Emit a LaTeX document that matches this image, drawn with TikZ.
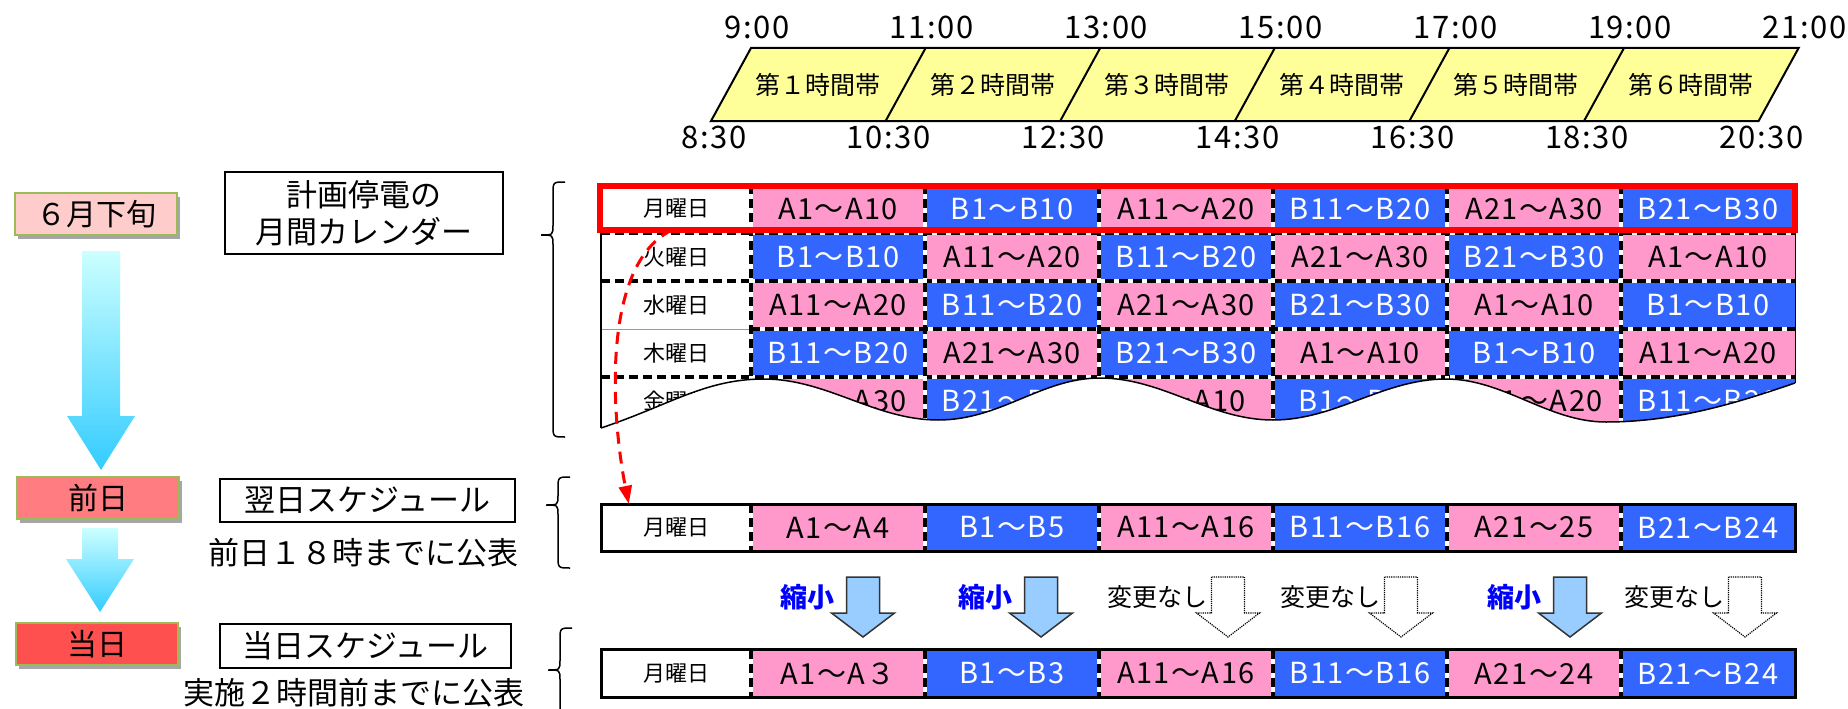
\documentclass[tikz,border=0pt]{standalone}
\usepackage{fontspec}
\setmainfont{Noto Sans CJK JP}
\newfontfamily\latfont[LetterSpace=5]{Noto Sans CJK JP}
\usetikzlibrary{positioning,calc,shadows,arrows.meta}

\definecolor{apink}{HTML}{FF99CC}
\definecolor{bblue}{HTML}{3366FF}
\definecolor{band}{HTML}{FFFF99}
\definecolor{olive}{HTML}{9BBB59}
\definecolor{junpink}{HTML}{FFCCCC}
\definecolor{zenred}{HTML}{FF7C80}
\definecolor{toured}{HTML}{FF5050}
\definecolor{shrink}{HTML}{99CCFF}
\definecolor{arrtop}{HTML}{CCFFFF}
\definecolor{arrbot}{HTML}{33CCFF}

\tikzset{
  stage/.style={draw=olive, line width=2pt, minimum width=162pt, minimum height=42pt,
    inner sep=0pt, font=\fontsize{30}{34}\selectfont,
    drop shadow={shadow xshift=3pt, shadow yshift=-4pt, fill=black!35, opacity=1}},
  lbox/.style={draw, line width=1.5pt, inner sep=0pt, align=center, font=\fontsize{31}{37}\selectfont},
  note/.style={inner sep=0pt, font=\fontsize{31}{35}\selectfont},
  timelab/.style={inner sep=0pt, font=\latfont\fontsize{31}{34}\selectfont},
  slotlab/.style={inner sep=0pt, font=\fontsize{25}{28}\selectfont},
  cell/.style={minimum width=174pt, minimum height=48pt, inner sep=0pt, font=\latfont\fontsize{29}{32}\selectfont},
  daycell/.style={minimum width=150pt, minimum height=48pt, inner sep=0pt, font=\fontsize{22}{25}\selectfont},
  sep/.style={line width=3.2pt, dash pattern=on 9pt off 5pt, preaction={draw=white, solid, line width=3.6pt}},
  shr/.style={fill=shrink, draw=black!80, line width=1.5pt, line join=miter},
  keep/.style={fill=white, draw=black, line width=1.2pt, densely dotted},
  shrlab/.style={inner sep=0pt, text=blue, font=\bfseries\fontsize{27}{30}\selectfont},
  keeplab/.style={inner sep=0pt, font=\fontsize{25}{28}\selectfont}
}

% curly bracket: tip x, top y, tip y, bottom y
\newcommand\curly[4]{%
  \draw[line width=1.5pt] ({#1+24},#2) .. controls ({#1+12},#2) .. ({#1+12},{#2+12})
    -- ({#1+12},{#3-10}) .. controls ({#1+12},#3) .. (#1,#3)
    .. controls ({#1+12},#3) .. ({#1+12},{#3+10})
    -- ({#1+12},{#4-12}) .. controls ({#1+12},#4) .. ({#1+24},#4);}

\def\wavepath{(601,428) .. controls (670,405) and (705,379) .. (764,379)
  .. controls (827,379) and (875,420) .. (938,420)
  .. controls (1001,420) and (1041,378) .. (1100,378)
  .. controls (1163,378) and (1210,420) .. (1273,420)
  .. controls (1336,420) and (1383,379) .. (1446,379)
  .. controls (1504,379) and (1548,422) .. (1606,422)
  .. controls (1680,422) and (1745,400) .. (1795,383)}

\begin{document}
\begin{tikzpicture}[x=1pt,y=-1pt]
  \useasboundingbox (0,0) rectangle (1848,709);

  % time band
  \draw[fill=band, line width=2pt] (711,121) -- (751,48) -- (1798.6,48) -- (1758.6,121) -- cycle;
  \foreach \i in {1,...,5}
    \draw[line width=2pt] ({711+174.6*\i},121) -- ({751+174.6*\i},48);
  \foreach \n [count=\i] in {１,２,３,４,５,６}
    \node[slotlab] (s-\i) at ({818+174.6*(\i-1)},85) {第\n 時間帯};
  \foreach \t [count=\i from 0] in {9:00,11:00,13:00,15:00,17:00,19:00,21:00}
    \node[timelab] (t-\i) at ({757+174.6*\i},27) {\t};
  \foreach \t [count=\i from 0] in {8:30,10:30,12:30,14:30,16:30,18:30,20:30}
    \node[timelab] (b-\i) at ({714+174.6*\i},137) {\t};

  % stages
  \node[stage, fill=junpink] (jun) at (96,214) {６月下旬};
  \node[stage, fill=zenred] (zen) at (98,498) {前日};
  \node[stage, fill=toured] (tou) at (97,644) {当日};
  \shade[top color=arrtop, bottom color=arrbot] (82,251) -- (120,251) -- (120,416) -- (135,416)
    -- (101,470) -- (67,416) -- (82,416) -- cycle;
  \shade[top color=arrtop, bottom color=arrbot] (82,528) -- (118,528) -- (118,559) -- (134,559)
    -- (100,612) -- (66,559) -- (82,559) -- cycle;

  % labels
  \node[lbox, minimum width=278pt, minimum height=82pt] (cal) at (364,213) {計画停電の\\月間カレンダー};
  \node[lbox, minimum width=295pt, minimum height=43pt] (yoku) at (367.5,500.5) {翌日スケジュール};
  \node[note] (yokupub) at (363,553) {前日１８時までに公表};
  \node[lbox, minimum width=291pt, minimum height=44pt] (toubox) at (365.5,646) {当日スケジュール};
  \node[note] (toupub) at (354,693) {実施２時間前までに公表};
  \curly{541}{182}{235}{437}
  \curly{546}{477}{505}{568}
  \curly{548}{628}{670}{760}

  % monthly calendar
  \begin{scope}
    \clip \wavepath -- (1795,185) -- (601,185) -- cycle;
    \foreach \dy [count=\rw] in {月,火,水,木,金}{
      \pgfmathsetmacro\yc{161+48*\rw}
      \node[daycell] (d-\rw) at (676,\yc) {\dy 曜日};
      \foreach \cl in {1,...,6}{
        \pgfmathtruncatemacro\kk{mod(\rw+\cl-2,6)}
        \pgfmathtruncatemacro\lo{10*int(\kk/2)+1}
        \pgfmathtruncatemacro\hi{\lo+9}
        \pgfmathsetmacro\xc{838+174*(\cl-1)}
        \ifodd\kk\relax \def\grp{B}\def\cf{bblue}\def\tc{white}%
        \else \def\grp{A}\def\cf{apink}\def\tc{black}\fi
        \node[cell, fill=\cf, text=\tc] (c-\rw-\cl) at (\xc,\yc) {\grp\lo～\grp\hi};
      }
    }
    \foreach \yy in {233,281,377}
      \draw[sep] (601,\yy) -- (1795,\yy);
    \draw[sep] (751,329) -- (1795,329);
    \draw[black!40, line width=1pt] (601,329) -- (751,329);
    \foreach \xx in {751,925,...,1621}
      \draw[sep] (\xx,185) -- (\xx,430);
  \end{scope}
  \draw[line width=1.5pt] \wavepath;
  \draw[line width=2pt] (601,233) -- (601,428);
  \draw[line width=1pt] (1795,233) -- (1795,383);
  \node[draw=red, line width=6pt, minimum width=1195pt, minimum height=44pt, inner sep=0pt, outer sep=0pt] (mon) at (1197.5,208) {};

  % next-day schedule
  \node[daycell, minimum height=47pt] (zd) at (676,527.5) {月曜日};
  \foreach \lab [count=\cl] in {A1～A4,B1～B5,A11～A16,B11～B16,A21～25,B21～B24}{
    \ifodd\cl\relax \def\cf{apink}\def\tc{black}\else \def\cf{bblue}\def\tc{white}\fi
    \node[cell, minimum height=47pt, fill=\cf, text=\tc] (z-\cl) at ({838+174*(\cl-1)},527.5) {\lab};
  }
  \foreach \xx in {751,925,...,1621}
    \draw[sep] (\xx,504) -- (\xx,551);
  \draw[line width=3pt] (601,504) rectangle (1795,551);

  % same-day schedule
  \node[daycell] (td) at (676,673.5) {月曜日};
  \foreach \lab [count=\cl] in {A1～A３,B1～B3,A11～A16,B11～B16,A21～24,B21～B24}{
    \ifodd\cl\relax \def\cf{apink}\def\tc{black}\else \def\cf{bblue}\def\tc{white}\fi
    \node[cell, fill=\cf, text=\tc] (u-\cl) at ({838+174*(\cl-1)},673.5) {\lab};
  }
  \foreach \xx in {751,925,...,1621}
    \draw[sep] (\xx,649.5) -- (\xx,697.5);
  \draw[line width=3pt] (601,649.5) rectangle (1795,697.5);

  % changes
  \foreach \xx [count=\i] in {863,1041,1570}{
    \draw[shr] ({\xx-16.5},577) -- ({\xx+16.5},577) -- ({\xx+16.5},613) -- ({\xx+31.5},613)
      -- (\xx,637) -- ({\xx-31.5},613) -- ({\xx-16.5},613) -- cycle;
    \node[shrlab, anchor=east] (sl-\i) at ({\xx-28},597) {縮小};
  }
  \foreach \xx [count=\i] in {1228,1401,1745}{
    \draw[keep] ({\xx-16.5},577) -- ({\xx+16.5},577) -- ({\xx+16.5},613) -- ({\xx+31.5},613)
      -- (\xx,637) -- ({\xx-31.5},613) -- ({\xx-16.5},613) -- cycle;
    \node[keeplab, anchor=east] (kl-\i) at ({\xx-20},597) {変更なし};
  }

  \draw[red, line width=3pt, dash pattern=on 12pt off 8pt, -{Triangle[length=18pt,width=13pt]}]
    ($(mon.south west)+(72,0)$) .. controls (600,265) and (612,420) .. ($(zd.north west)+(28,0)$);
\end{tikzpicture}
\end{document}
